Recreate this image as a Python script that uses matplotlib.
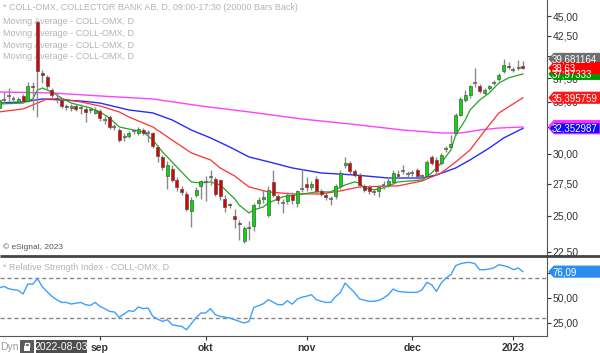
import numpy as np
import pandas as pd
import matplotlib
matplotlib.use('Agg')
import matplotlib.pyplot as plt
from matplotlib.patches import Polygon, Rectangle
from matplotlib.ticker import FixedLocator, NullLocator, FuncFormatter

plt.rcParams['font.family'] = ['Liberation Sans', 'DejaVu Sans']

# trading days (Stockholm closed 26 dec)
dates = pd.bdate_range('2022-08-03', '2023-01-04')
dates = dates[dates != pd.Timestamp('2022-12-26')]

opens = [34.3, 35.2, 35.55, 35.2, 35.0, 35.6, 35.1, 36.6, 44.2, 38.1,
         37.6, 36.2, 35.4, 35.2, 34.5, 34.3, 34.5, 34.3, 34.2, 34.1,
         33.8, 34.0, 33.2, 33.4, 32.5, 32.2, 31.5, 31.6, 32.0, 31.9,
         32.2, 31.95, 31.9, 30.6, 29.7, 28.1, 28.7, 27.8, 27.1, 26.7,
         25.4, 26.6, 27.3, 27.7, 28.0, 27.9, 27.8, 26.3, 25.9, 25.0,
         24.5, 23.2, 24.1, 24.3, 26.0, 26.3, 25.1, 27.6, 26.5, 26.0,
         26.1, 26.6, 26.0, 27.0, 27.5, 27.2, 27.9, 26.9, 26.6, 26.3,
         26.5, 27.3, 29.0, 29.2, 28.5, 28.2, 27.3, 27.2, 26.9, 26.9,
         27.4, 27.4, 27.6, 28.3, 28.6, 28.2, 28.35, 28.6, 28.1, 28.1,
         29.7, 29.5, 29.2, 30.4, 30.6, 31.9, 33.6, 35.2, 35.7, 36.9,
         36.6, 35.9, 36.4, 36.9, 37.4, 38.3, 38.9, 38.5, 38.6, 38.9]
highs = [35.4, 36.0, 36.4, 35.6, 35.5, 35.8, 37.1, 37.1, 44.3, 38.4,
         37.9, 36.4, 35.9, 35.4, 34.8, 34.7, 34.8, 34.7, 34.4, 34.4,
         34.4, 34.2, 33.5, 33.6, 32.8, 32.4, 31.9, 32.1, 32.3, 32.5,
         32.4, 32.2, 32.0, 30.8, 29.9, 29.4, 29.0, 28.0, 27.3, 26.9,
         26.4, 27.2, 27.8, 28.1, 28.6, 28.0, 27.9, 26.6, 26.0, 25.5,
         24.7, 24.3, 24.6, 26.0, 26.4, 27.0, 27.3, 28.6, 26.7, 26.3,
         26.8, 26.8, 27.0, 28.7, 28.0, 27.7, 28.1, 27.1, 26.8, 26.5,
         27.5, 28.6, 29.7, 29.4, 28.7, 28.4, 27.5, 27.4, 27.1, 27.4,
         27.7, 28.0, 28.6, 28.6, 29.0, 28.5, 28.6, 28.8, 28.3, 29.5,
         29.9, 29.7, 30.1, 30.7, 31.7, 33.8, 35.5, 36.2, 36.8, 38.6,
         36.9, 36.4, 36.8, 37.3, 38.1, 39.7, 39.3, 38.8, 39.5, 39.4]
lows = [34.1, 34.9, 35.0, 34.9, 34.9, 34.9, 35.0, 34.1, 33.4, 37.0,
        36.3, 35.4, 34.9, 34.3, 34.1, 34.0, 34.0, 33.7, 33.0, 33.8,
        33.7, 33.1, 32.8, 32.3, 32.2, 31.1, 31.2, 31.4, 31.8, 31.7,
        31.7, 31.1, 30.5, 29.3, 28.6, 27.1, 27.6, 26.9, 26.6, 25.4,
        24.2, 26.4, 26.3, 26.1, 27.4, 26.5, 26.2, 25.3, 25.6, 24.1,
        23.3, 23.1, 23.3, 23.9, 25.7, 26.0, 24.9, 26.4, 25.9, 25.2,
        25.9, 25.9, 25.7, 26.8, 26.9, 27.0, 26.7, 26.5, 26.2, 25.8,
        26.3, 27.1, 28.8, 28.3, 28.0, 27.2, 26.8, 26.7, 26.6, 26.4,
        27.1, 27.2, 27.5, 27.9, 28.3, 28.0, 28.1, 28.0, 27.9, 28.0,
        29.0, 28.3, 29.0, 30.2, 30.5, 31.7, 33.5, 35.0, 35.4, 36.5,
        35.9, 35.7, 36.2, 36.7, 37.2, 38.1, 38.5, 38.2, 38.4, 38.5]
closes = [35.2, 35.15, 35.6, 35.25, 35.3, 35.1, 36.6, 36.5, 38.3, 37.8,
          36.6, 35.7, 35.3, 34.5, 34.4, 34.5, 34.2, 34.4, 33.9, 34.2,
          34.1, 33.3, 33.15, 32.5, 32.45, 31.3, 31.6, 31.9, 32.05, 32.3,
          31.9, 31.9, 30.7, 29.8, 28.9, 29.0, 27.8, 27.2, 26.8, 25.5,
          26.2, 27.0, 27.7, 27.65, 28.1, 26.7, 26.5, 25.7, 25.8, 24.8,
          24.4, 24.1, 24.2, 25.8, 26.2, 26.4, 27.0, 26.6, 26.2, 25.95,
          26.6, 26.2, 26.9, 27.05, 27.2, 27.5, 26.9, 26.7, 26.4, 26.25,
          27.3, 28.4, 29.2, 28.5, 28.2, 27.4, 27.0, 26.9, 26.85, 27.2,
          27.35, 27.7, 28.4, 28.1, 28.55, 28.25, 28.4, 28.1, 28.15, 29.3,
          29.2, 28.5, 29.9, 30.45, 30.9, 33.6, 35.3, 35.7, 36.6, 36.95,
          36.1, 36.2, 36.6, 36.95, 37.9, 39.0, 38.8, 38.45, 38.8, 38.63]

rsi = [59.7, 61.3, 59.0, 58.0, 57.3, 53.7, 63.7, 63.5, 69.0, 61.0,
       56.0, 51.3, 48.0, 45.3, 45.3, 43.7, 44.5, 45.3, 43.0, 42.3,
       45.3, 41.3, 39.0, 36.3, 35.7, 30.3, 33.7, 37.0, 36.3, 40.7,
       39.0, 39.7, 31.3, 28.5, 26.3, 28.0, 23.0, 22.0, 21.3, 18.0,
       24.0, 30.0, 34.7, 34.7, 39.0, 33.0, 31.3, 30.5, 29.7, 28.0,
       26.3, 24.7, 26.3, 40.3, 42.0, 44.0, 48.0, 45.7, 43.0, 43.0,
       47.0, 43.5, 48.5, 50.5, 51.5, 53.0, 48.0, 46.5, 45.3, 45.3,
       51.0, 55.0, 64.7, 59.7, 55.0, 48.7, 47.5, 46.3, 46.5, 47.3,
       49.7, 53.0, 58.7, 56.3, 55.8, 55.3, 55.3, 55.3, 58.0, 65.3,
       63.0, 56.3, 64.7, 69.7, 73.0, 82.0, 84.0, 85.0, 85.3, 84.0,
       78.0, 78.0, 78.7, 80.0, 83.0, 82.0, 80.7, 78.0, 79.7, 76.09]

# moving averages at some bars
ma_short_idx = [0, 5, 7, 8, 9, 11, 13, 15, 19, 21, 23, 25, 28, 30, 32, 34, 37, 40, 42, 44,
                46, 49, 50, 52, 53, 55, 56, 59, 62, 66, 69, 72, 74, 75, 76, 78, 80, 83, 88, 90,
                92, 94, 95, 97, 98, 100, 102, 104, 106, 109]
ma_short = [34.75, 34.85, 35.27, 36.21, 36.43, 36.0, 35.37, 34.85, 34.35, 33.95,
            33.35, 32.48, 32.19, 32.0, 31.26, 30.18, 28.87, 27.63, 27.55, 27.63,
            27.39, 26.3, 25.8, 25.22, 25.45, 25.67, 25.97, 26.44, 26.6, 26.83,
            26.83, 27.39, 27.63, 27.55, 27.15, 27.0, 27.15, 27.63, 27.79, 28.37,
            29.22, 30.36, 31.72, 33.16, 34.15, 35.16, 35.9, 36.97, 37.52, 37.97]
ma_mid_idx = [0, 5, 8, 10, 13, 17, 21, 25, 27, 32, 36, 40, 44, 46, 49, 52, 56, 61, 67, 71,
              75, 83, 88, 92, 95, 98, 101, 104, 109]
ma_mid = [33.95, 34.25, 34.85, 35.27, 35.27, 34.96, 34.55, 33.95, 33.45, 32.48,
          31.26, 30.09, 29.48, 28.79, 28.12, 27.23, 26.83, 26.67, 26.67, 26.91,
          27.23, 27.31, 27.71, 28.37, 29.3, 30.36, 32.1, 33.85, 35.40]
ma_long_idx = [0, 5, 9, 13, 17, 21, 27, 32, 36, 40, 44, 48, 52, 57, 61, 67, 74, 81, 88, 91,
               95, 98, 102, 105, 109]
ma_long = [34.85, 34.96, 35.27, 35.16, 35.06, 34.85, 34.15, 33.85, 33.16, 32.19,
           31.45, 30.62, 29.74, 29.22, 28.79, 28.37, 28.2, 27.95, 27.95, 28.2,
           28.79, 29.48, 30.53, 31.45, 32.35]
ma_200_idx = [0, 11, 21, 32, 42, 52, 63, 73, 84, 92, 96, 100, 104, 109]
ma_200 = [36.0, 35.9, 35.58, 35.27, 34.55, 33.95, 33.25, 32.77, 32.19, 31.91,
          31.91, 32.19, 32.38, 32.48]

price_ticks = [22.5, 25, 27.5, 30, 32.5, 35, 37.5, 40, 42.5, 45]
rsi_ticks = [25, 50, 75]

W, H = 600, 353
fig = plt.figure(figsize=(6, 3.53), dpi=100)
ax = fig.add_axes([0, 1 - 256 / H, 547 / W, 256 / H])
ax2 = fig.add_axes([0, 1 - 336 / H, 547 / W, 79 / H], sharex=ax)
ov = fig.add_axes([0, 0, 1, 1], zorder=10)
ov.set_xlim(0, W)
ov.set_ylim(H, 0)
ov.axis('off')
ov.patch.set_alpha(0)

x = np.arange(len(closes))
o = np.array(opens); h = np.array(highs); l = np.array(lows); c = np.array(closes)
up = c > o + 0.06
dn = c < o - 0.06
doji = ~(up | dn)

ax.vlines(x, l, h, color='#8a8a8a', lw=1, zorder=3)
ax.bar(x[up], (c - o)[up], bottom=o[up], width=0.62, color='#00e000',
       edgecolor='#555555', lw=0.5, zorder=4)
ax.bar(x[dn], (o - c)[dn], bottom=c[dn], width=0.62, color='#e00000',
       edgecolor='#555555', lw=0.5, zorder=4)
ax.hlines(c[doji], x[doji] - 0.4, x[doji] + 0.4, color='#666666', lw=1.2, zorder=4)

ax.plot(ma_200_idx, ma_200, color='#ff40ff', lw=1, zorder=2)
ax.plot(ma_long_idx, ma_long, color='#2a2aff', lw=1, zorder=2)
ax.plot(ma_mid_idx, ma_mid, color='#ff3030', lw=0.9, zorder=2)
ax.plot(ma_short_idx, ma_short, color='#22a522', lw=0.9, zorder=2)

# labels that sit fully under the value tags are left blank
hidden = {40.0, 32.5, 75.0}


def comma(v, p):
    if round(v, 2) in hidden:
        return ''
    return f'{v:.2f}'.replace('.', ',')


ax.set_yscale('log')
ax.set_ylim(22.22, 47.19)
ax.set_xlim(0.2, 114.0)
ax.yaxis.set_major_locator(FixedLocator(price_ticks))
ax.yaxis.set_minor_locator(NullLocator())
ax.yaxis.set_major_formatter(FuncFormatter(comma))
ax.yaxis.tick_right()
ax.tick_params(axis='y', direction='out', length=3, pad=1, labelsize=7.5,
               colors='#333333', width=0.8)
ax.tick_params(axis='x', bottom=False, labelbottom=False)
for s in ['top', 'left', 'bottom']:
    ax.spines[s].set_visible(False)
ax.spines['right'].set_color('#555555')

# RSI panel
ax2.plot(x, rsi, color='#3ea0ff', lw=1, zorder=3)
ax2.axhline(70, color='#888888', lw=1, ls=(0, (3, 2)))
ax2.axhline(30, color='#888888', lw=1, ls=(0, (3, 2)))
ax2.set_ylim(11.7, 90.7)
ax2.yaxis.set_major_locator(FixedLocator(rsi_ticks))
ax2.yaxis.set_major_formatter(FuncFormatter(comma))
ax2.yaxis.tick_right()
ax2.tick_params(axis='y', direction='out', length=3, pad=1, labelsize=7.5,
                colors='#333333', width=0.8)
for s in ['top', 'left']:
    ax2.spines[s].set_visible(False)
ax2.spines['right'].set_color('#555555')
ax2.spines['bottom'].set_color('#555555')

month_pos = [i for i in range(1, len(dates)) if dates[i].month != dates[i - 1].month]
month_lab = ['sep', 'okt', 'nov', 'dec', '2023']
ax2.set_xticks(month_pos)
ax2.set_xticklabels(month_lab, fontweight='bold')
ax2.tick_params(axis='x', direction='out', length=3, pad=2, labelsize=7.5,
                colors='#333333', width=0.8)

# texts behind the candles
txt_c = '#b4b4b4'
ax.text(3, 8, '* COLL-OMX, COLLECTOR BANK AB, D, 09:00-17:30 (20000 Bars Back)',
        transform=ov.transData, fontsize=6.5, color=txt_c, va='center', zorder=1)
for yy in [21, 33, 45, 56.5]:
    ax.text(3, yy, 'Moving Average - COLL-OMX, D', transform=ov.transData,
            fontsize=6.5, color=txt_c, va='center', zorder=1)
ax.text(3, 247, '\u00a9 eSignal, 2023', transform=ov.transData, fontsize=6,
        color='#555555', va='center', zorder=1)
ax2.text(3, 268, '* Relative Strength Index - COLL-OMX, D', transform=ov.transData,
         fontsize=6.5, color=txt_c, va='center', zorder=1)

# panel separator
ov.plot([0, W], [256, 256], color='#444444', lw=2, solid_capstyle='butt')


def tag(axis, value, text, color, edge=None, dy=0):
    yd = H - axis.transData.transform((0, value))[1] + dy
    x0 = 549
    pts = [(x0, yd), (x0 + 5, yd - 5.5), (W, yd - 5.5), (W, yd + 5.5), (x0 + 5, yd + 5.5)]
    ov.add_patch(Polygon(pts, closed=True, facecolor=color,
                         edgecolor=edge or color, lw=0.8))
    if text:
        ov.text(x0 + 3, yd + 0.5, text, color='white', fontsize=7, va='center', ha='left')


fig.canvas.draw()
tag(ax, 39.681164, '39,681164', '#6e6e6e')
tag(ax, ma_short[-1], '37,97333', '#009a00')
tag(ax, closes[-1], '38,63', '#ff0000')
tag(ax, ma_mid[-1], '35,395759', '#ff1414')
tag(ax, ma_200[-1], '', '#ff33ff', dy=-1)
tag(ax, ma_long[-1], '32,352987', '#0a0aff', edge='#ff33ff')
tag(ax2, rsi[-1], '76,09', '#2b8cf0')

# bottom left widgets
ov.text(0, 347, 'Dyn', fontsize=7.5, color='#9a9a9a', va='center', ha='left')
ov.add_patch(Rectangle((20, 340), 13, 13, facecolor='#5a5a5a', edgecolor='#3a3a3a', lw=0.5))
ov.add_patch(Rectangle((23.5, 346), 6, 5, facecolor='white', lw=0))
ov.add_patch(Rectangle((24.5, 342.5), 4, 4, facecolor='none', edgecolor='white', lw=1))
ov.add_patch(Rectangle((36, 340), 51, 13, facecolor='#4d4d4d', lw=0))
ov.text(61.5, 347, '2022-08-03', fontsize=7.5, color='white', va='center', ha='center')

fig.savefig('out.png', dpi=100)
